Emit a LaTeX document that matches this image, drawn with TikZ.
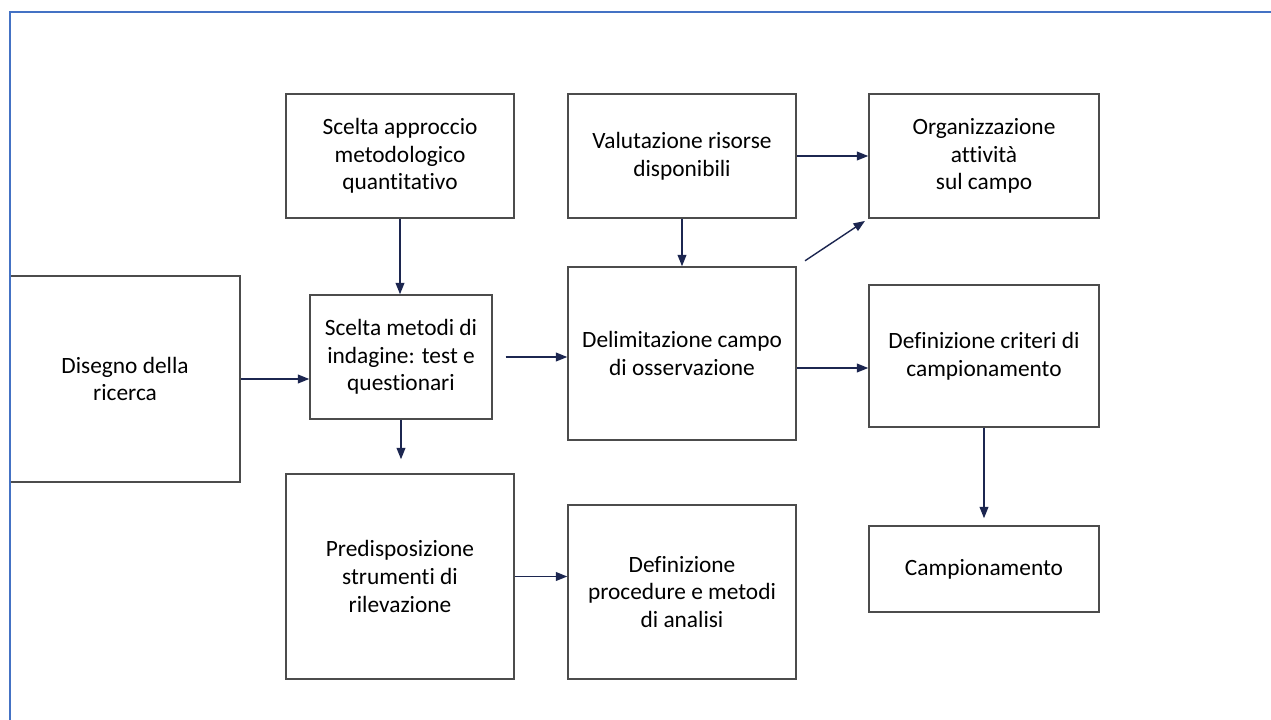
\documentclass[tikz,border=0pt]{standalone}
\usepackage{fontspec}
\setmainfont[Ligatures={NoCommon}]{Carlito}
\usetikzlibrary{arrows.meta}
\definecolor{frameblue}{HTML}{4472C4}
\definecolor{arrnavy}{HTML}{1C2650}
\tikzset{
  box/.style={draw=black!70, line width=0.85pt, fill=white, inner sep=0pt, align=center,
    font=\fontsize{13.3}{15.8}\selectfont},
  conn/.style={draw=arrnavy, line width=0.8pt, -{Triangle[length=6.5pt,width=5pt]}},
}
\begin{document}
\begin{tikzpicture}[x=0.02cm,y=-0.02cm]
\useasboundingbox (0,0) rectangle (1271,720);
% boxes
\node[box, minimum width=4.6cm, minimum height=4.12cm] (dis) at (125,379) {Disegno della\\ricerca};
\node[box, minimum width=4.56cm, minimum height=2.48cm] (app) at (400,156) {Scelta approccio\\metodologico\\quantitativo};
\node[box, minimum width=4.56cm, minimum height=2.48cm] (val) at (682,156) {Valutazione risorse\\disponibili};
\node[box, minimum width=4.6cm, minimum height=2.48cm] (org) at (984,156) {Organizzazione\\attività\\sul campo};
\node[box, minimum width=3.64cm, minimum height=2.48cm] (met) at (401,357) {Scelta metodi di\\indagine: test e\\questionari};
\node[box, minimum width=4.56cm, minimum height=3.46cm] (del) at (682,353.5) {Delimitazione campo\\di osservazione};
\node[box, minimum width=4.6cm, minimum height=2.84cm] (cri) at (984,356) {Definizione criteri di\\campionamento};
\node[box, minimum width=4.56cm, minimum height=4.1cm] (pre) at (400,576.5) {Predisposizione\\strumenti di\\rilevazione};
\node[box, minimum width=4.56cm, minimum height=3.48cm] (pro) at (682,592) {Definizione\\procedure e metodi\\di analisi};
\node[box, minimum width=4.6cm, minimum height=1.72cm] (cam) at (984,569) {Campionamento};
% frame
\draw[frameblue, line width=1.7pt] (10,720) -- (10,12) -- (1271,12);
% connectors
\draw[conn] (dis.east) -- (dis.east -| met.west);
\draw[conn] (app.south) -- (app.south |- met.north);
\draw[conn, shorten <=0.26cm] (met.east) -- (met.east -| del.west);
\draw[conn, shorten >=0.28cm] (met.south) -- (met.south |- pre.north);
\draw[conn] (val.south) -- (del.north);
\draw[conn] (val.east) -- (org.west);
\draw[conn, shorten <=0.2cm, shorten >=0.08cm] (del.north east) -- (org.south west);
\draw[conn] ([yshift=-0.29cm]del.east) -- ([yshift=-0.29cm]del.east -| cri.west);
\draw[conn, shorten >=0.14cm] (cri.south) -- (cam.north);
\draw[conn] (pre.east) -- (pre.east -| pro.west);
\end{tikzpicture}
\end{document}
